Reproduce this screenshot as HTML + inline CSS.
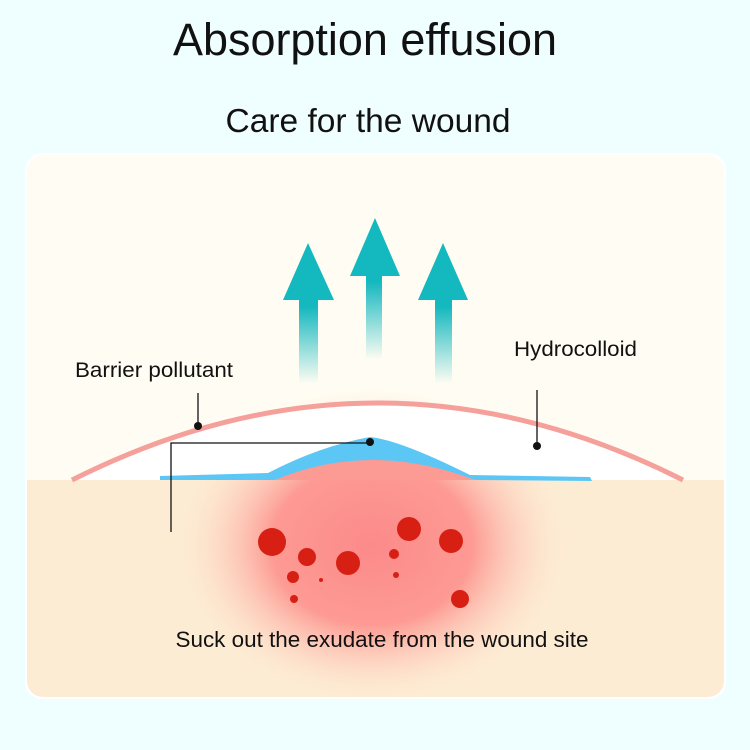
<!DOCTYPE html>
<html><head><meta charset="utf-8"><style>
html,body{margin:0;padding:0;background:#efffff;}
svg{display:block;}
text{font-family:"Liberation Sans",sans-serif;fill:#111;}
</style></head><body>
<svg width="750" height="750" viewBox="0 0 750 750" xmlns="http://www.w3.org/2000/svg">
<defs>
<clipPath id="card"><rect x="27" y="155" width="697" height="542" rx="16"/></clipPath>
<radialGradient id="glow" cx="372" cy="545" r="200" gradientUnits="userSpaceOnUse" gradientTransform="translate(372 545) scale(1 0.8) translate(-372 -545)">
<stop offset="0" stop-color="#fc8a8a"/><stop offset="0.5" stop-color="#fd9a93"/><stop offset="1" stop-color="#fdebd3" stop-opacity="0"/></radialGradient>
<linearGradient id="sh1" x1="0" y1="0" x2="0" y2="1"><stop offset="0" stop-color="#14b8bf"/><stop offset="0.45" stop-color="#14b8bf"/><stop offset="1" stop-color="#14b8bf" stop-opacity="0"/></linearGradient>
</defs>
<rect x="25" y="153" width="701" height="546" rx="17" fill="#fff"/>
<g clip-path="url(#card)">
<rect x="27" y="155" width="697" height="325" fill="#fffdf3"/>
<rect x="27" y="480" width="697" height="220" fill="#fdecd4"/>
<ellipse cx="372" cy="545" rx="200" ry="160" fill="url(#glow)"/>
</g>
<path d="M72 480 Q378 326 683 480 Z" fill="#fff"/>
<path d="M72 480 Q378 326 683 480" fill="none" stroke="#f5a09a" stroke-width="5"/>
<path d="M275 480 Q370 432 475 480 Z" fill="#fc9a94"/>
<path d="M160 480 L160 476 L268 473 Q320 446 370 437 Q400 440 470 475 L590 477 L592 481 L475 480 Q370 440 275 480 Z" fill="#5cc7f5"/>
<!-- arrows -->
<path d="M299 300 H283 L308 243 L334 300 H318 V384 H299 Z" fill="url(#sh1)"/>
<path d="M366 276 H350 L375 218 L400 276 H382 V360 H366 Z" fill="url(#sh1)"/>
<path d="M435 300 H418 L443 243 L468 300 H452 V384 H435 Z" fill="url(#sh1)"/>
<!-- dots -->
<g fill="#d81f14">
<circle cx="272" cy="542" r="14"/><circle cx="307" cy="557" r="9"/><circle cx="348" cy="563" r="12"/>
<circle cx="293" cy="577" r="6"/><circle cx="321" cy="580" r="2"/><circle cx="294" cy="599" r="4"/>
<circle cx="409" cy="529" r="12"/><circle cx="451" cy="541" r="12"/><circle cx="394" cy="554" r="5"/>
<circle cx="396" cy="575" r="3"/><circle cx="460" cy="599" r="9"/>
</g>
<!-- leaders -->
<g stroke="#111" stroke-width="1.3" fill="none">
<path d="M198 393 V426"/><path d="M537 390 V446"/><path d="M370 443 H171 V532"/>
</g>
<g fill="#111"><circle cx="198" cy="426" r="4"/><circle cx="537" cy="446" r="4"/><circle cx="370" cy="442" r="4"/></g>
<text x="365" y="55" font-size="45" text-anchor="middle" textLength="384" lengthAdjust="spacingAndGlyphs">Absorption effusion</text>
<text x="368" y="132" font-size="33" text-anchor="middle" textLength="285" lengthAdjust="spacingAndGlyphs">Care for the wound</text>
<text x="75" y="377" font-size="21" textLength="158" lengthAdjust="spacingAndGlyphs">Barrier pollutant</text>
<text x="514" y="356" font-size="21" textLength="123" lengthAdjust="spacingAndGlyphs">Hydrocolloid</text>
<text x="382" y="647" font-size="22" text-anchor="middle" textLength="413" lengthAdjust="spacingAndGlyphs">Suck out the exudate from the wound site</text>
</svg>
</body></html>
